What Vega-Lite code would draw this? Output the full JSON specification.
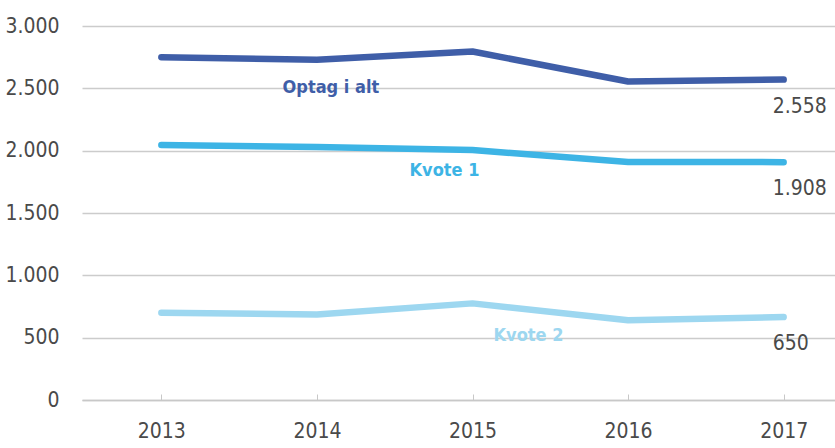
{
  "$schema": "https://vega.github.io/schema/vega-lite/v6.json",
  "width": 753,
  "height": 374,
  "autosize": {"type": "none"},
  "padding": {"left": 82, "top": 26, "right": 0, "bottom": 48},
  "background": "white",
  "config": {
    "view": {"stroke": null},
    "font": "DejaVu Sans Condensed, Roboto, sans-serif"
  },
  "datasets": {
    "lines": [
      {"series": "Optag i alt", "year": 2013, "value": 2750},
      {"series": "Optag i alt", "year": 2014, "value": 2730},
      {"series": "Optag i alt", "year": 2015, "value": 2795},
      {"series": "Optag i alt", "year": 2016, "value": 2555},
      {"series": "Optag i alt", "year": 2017, "value": 2570, "label": "2.558"},
      {"series": "Kvote 1", "year": 2013, "value": 2045},
      {"series": "Kvote 1", "year": 2014, "value": 2030},
      {"series": "Kvote 1", "year": 2015, "value": 2005},
      {"series": "Kvote 1", "year": 2016, "value": 1910},
      {"series": "Kvote 1", "year": 2017, "value": 1908, "label": "1.908"},
      {"series": "Kvote 2", "year": 2013, "value": 700},
      {"series": "Kvote 2", "year": 2014, "value": 685},
      {"series": "Kvote 2", "year": 2015, "value": 775},
      {"series": "Kvote 2", "year": 2016, "value": 640},
      {"series": "Kvote 2", "year": 2017, "value": 665, "label": "650"}
    ],
    "names": [
      {"series": "Optag i alt", "year": 2014.09, "value": 2503},
      {"series": "Kvote 1", "year": 2014.82, "value": 1837},
      {"series": "Kvote 2", "year": 2015.36, "value": 513}
    ]
  },
  "layer": [
    {
      "data": {"name": "lines"},
      "mark": {"type": "line", "strokeWidth": 6.5, "strokeCap": "round", "strokeJoin": "round"},
      "encoding": {
        "x": {
          "field": "year", "type": "quantitative",
          "scale": {"domain": [2012.49, 2017.33], "nice": false, "zero": false},
          "axis": {
            "values": [2013, 2014, 2015, 2016, 2017],
            "format": "d",
            "title": null,
            "grid": false,
            "domainColor": "#c8c8c8",
            "domainWidth": 1.5,
            "tickColor": "#c8c8c8",
            "tickSize": -6,
            "tickWidth": 1,
            "labelFont": "DejaVu Sans Condensed, Roboto, sans-serif",
            "labelFontSize": 21,
            "labelColor": "#4a4a4a",
            "labelPadding": 26
          }
        },
        "y": {
          "field": "value", "type": "quantitative",
          "scale": {"domain": [0, 3000], "nice": false},
          "axis": {
            "values": [0, 500, 1000, 1500, 2000, 2500, 3000],
            "labelExpr": "replace(format(datum.value, ','), ',', '.')",
            "title": null,
            "domain": false,
            "ticks": false,
            "gridColor": "#cccccc",
            "gridWidth": 1.5,
            "labelFont": "DejaVu Sans Condensed, Roboto, sans-serif",
            "labelFontSize": 21,
            "labelColor": "#4a4a4a",
            "labelPadding": 23
          }
        },
        "color": {
          "field": "series", "type": "nominal",
          "scale": {"domain": ["Optag i alt", "Kvote 1", "Kvote 2"], "range": ["#3f5ea8", "#3db4e5", "#9dd7f0"]},
          "legend": null
        }
      }
    },
    {
      "data": {"name": "lines"},
      "transform": [{"filter": "datum.label"}],
      "mark": {"type": "text", "align": "left", "baseline": "middle", "dx": -11, "dy": 27, "fontSize": 21, "font": "DejaVu Sans Condensed, Roboto, sans-serif", "color": "#4a4a4a"},
      "encoding": {
        "x": {"field": "year", "type": "quantitative"},
        "y": {"field": "value", "type": "quantitative"},
        "text": {"field": "label"}
      }
    },
    {
      "data": {"name": "names"},
      "mark": {"type": "text", "align": "center", "baseline": "middle", "fontSize": 18, "fontWeight": "bold", "font": "DejaVu Sans Condensed, Roboto, sans-serif"},
      "encoding": {
        "x": {"field": "year", "type": "quantitative"},
        "y": {"field": "value", "type": "quantitative"},
        "text": {"field": "series"},
        "color": {"field": "series", "type": "nominal", "legend": null}
      }
    }
  ]
}
